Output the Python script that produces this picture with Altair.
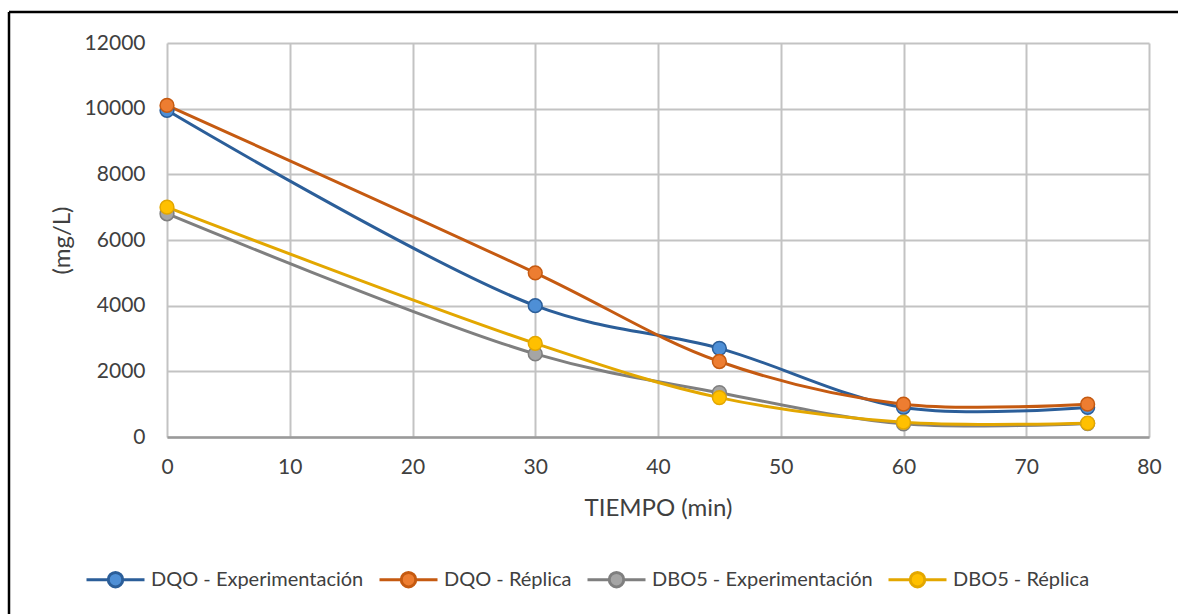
import altair as alt
import pandas as pd

tiempo = [0, 30, 45, 60, 75]
dqo_exp = [9950, 4000, 2700, 900, 900]
dqo_rep = [10100, 5000, 2300, 1000, 1000]
dbo_exp = [6800, 2530, 1350, 400, 410]
dbo_rep = [7000, 2850, 1200, 450, 420]

series_names = ["DQO - Experimentación", "DQO - Réplica", "DBO5 - Experimentación", "DBO5 - Réplica"]
line_colors = ["#2B5E99", "#C55A11", "#7F7F7F", "#E3A700"]
marker_colors = ["#4E8FD6", "#ED7D31", "#A5A5A5", "#FFC000"]

rows = []
for name, vals in zip(series_names, [dqo_exp, dqo_rep, dbo_exp, dbo_rep]):
    for t, v in zip(tiempo, vals):
        rows.append({"serie": name, "tiempo": t, "valor": v})
df = pd.DataFrame(rows)

FONT = "Lato"
TXT = "#404040"

x = alt.X("tiempo:Q", title="TIEMPO (min)",
          scale=alt.Scale(domain=[0, 80], nice=False),
          axis=alt.Axis(values=list(range(0, 81, 10)), ticks=False, labelPadding=19,
                        labelFlush=False, titlePadding=19, domainColor="#9A9A9A", domainWidth=2.5,
                        gridColor="#C3C3C3", gridWidth=2))
y = alt.Y("valor:Q", title="(mg/L)",
          scale=alt.Scale(domain=[0, 12000], nice=False),
          axis=alt.Axis(values=list(range(0, 12001, 2000)), ticks=False, labelPadding=22,
                        format="d", labelFlush=False,
                        titlePadding=10, domain=False, gridColor="#C3C3C3", gridWidth=2))


def make_legend():
    return alt.Legend(
        title=None, orient="none", legendX=-82, legendY=506, direction="horizontal",
        symbolType="M-1,0L-0.25,0M0.25,0L1,0M0.25,0A0.25,0.25,0,1,1,-0.25,0A0.25,0.25,0,1,1,0.25,0Z",
        symbolSize=3364, symbolStrokeWidth=3, labelFont=FONT, labelFontSize=20, labelColor=TXT,
        labelOffset=5, columnPadding=9, padding=0, labelLimit=400,
    )


stroke_enc = alt.Stroke("serie:N", scale=alt.Scale(domain=series_names, range=line_colors),
                        legend=make_legend())

lines = alt.Chart(df).mark_line(interpolate="catmull-rom", strokeWidth=3).encode(
    x=x, y=y,
    stroke=stroke_enc,
    order=alt.Order("tiempo:Q"),
)

points = alt.Chart(df).mark_point(filled=True, size=190, strokeWidth=1.5, opacity=1).encode(
    x="tiempo:Q", y="valor:Q",
    fill=alt.Fill("serie:N", scale=alt.Scale(domain=series_names, range=marker_colors),
                  legend=make_legend()),
    stroke=stroke_enc,
)

frame_df = pd.DataFrame({"a": [0]})
frame_left = alt.Chart(frame_df).mark_rule(color="#000000", strokeWidth=2.5).encode(
    x=alt.value(-158), y=alt.value(-31), y2=alt.value(600))
frame_top = alt.Chart(frame_df).mark_rule(color="#000000", strokeWidth=2.5).encode(
    x=alt.value(-158), x2=alt.value(1100), y=alt.value(-31))

chart = alt.layer(lines, points, frame_left, frame_top).properties(
    width=982, height=394,
    autosize=alt.AutoSizeParams(type="none"),
    padding={"left": 167, "top": 43, "right": 29, "bottom": 177},
    background="white",
).configure_view(stroke=None).configure_axis(
    labelFont=FONT, labelFontSize=21, labelColor=TXT,
    titleFont=FONT, titleFontSize=24, titleColor=TXT, titleFontWeight="normal",
)

chart.save("out.html", embed_options={"renderer": "svg", "actions": False})
